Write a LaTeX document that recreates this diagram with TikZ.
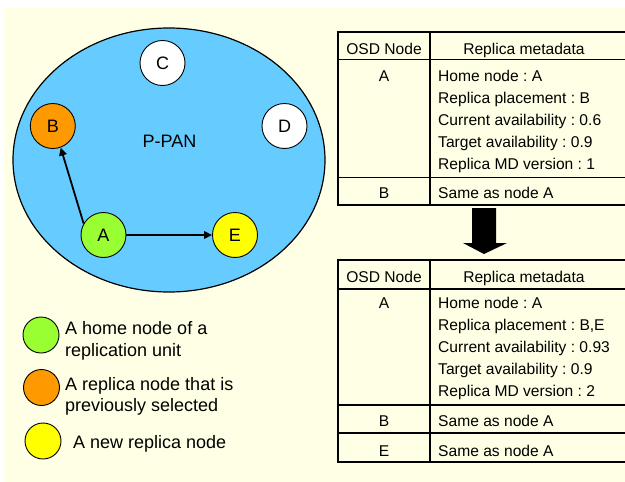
\documentclass[tikz,border=0pt]{standalone}
\usepackage{fontspec}
\setmainfont{Liberation Sans}
\usetikzlibrary{arrows.meta}
\definecolor{cream}{RGB}{255,255,229}
\definecolor{panblue}{RGB}{102,204,255}
\definecolor{homegreen}{RGB}{153,255,51}
\definecolor{oldorange}{RGB}{255,153,0}
\definecolor{newyellow}{RGB}{255,255,0}
\frenchspacing

\begin{document}
\begin{tikzpicture}[x=1pt,y=-1pt,>={Triangle[length=8pt,width=7.5pt]},
 osd/.style={circle,draw,line width=0.9pt,minimum size=45pt,inner sep=0pt,font=\fontsize{18}{21}\selectfont},
 key/.style={circle,draw,line width=0.9pt,minimum size=36pt,inner sep=0pt},
 keytext/.style={anchor=north west,inner sep=0pt,align=left,font=\fontsize{18}{21.3}\selectfont},
 cell/.style={anchor=base,inner sep=0pt,font=\fontsize{15.6}{22}\selectfont},
 meta/.style={cell,anchor=north west,align=left},
 outer/.style={line width=2pt},
 inner/.style={line width=1.2pt}]
\useasboundingbox (0,0) rectangle (625,482);
\fill[cream] (4,8) rectangle (625,482);
% P-PAN with its OSD nodes
\draw[fill=panblue,line width=1.2pt] (169,160) ellipse [x radius=156pt,y radius=132pt];
\node[font=\fontsize{18}{21}\selectfont,anchor=base] (ppan) at (169.5,147.5) {P-PAN};
\node[osd,fill=white] (c) at (162.5,63) {C};
\node[osd,fill=oldorange] (b) at (52.8,126) {B};
\node[osd,fill=white] (d) at (284.5,126) {D};
\node[osd,fill=homegreen] (a) at (103.5,235) {A};
\node[osd,fill=newyellow] (e) at (235,235) {E};
\draw[->,line width=1.8pt] (a.150)--(b.290);
\draw[->,line width=1.8pt] (a)--(e);
% legend
\node[key,fill=homegreen] (k1) at (41,335) {};
\node[keytext] (t1) at (65,321.5) {A home node of a\\replication unit};
\node[key,fill=oldorange] (k2) at (41.5,387.5) {};
\node[keytext] (t2) at (65,377.3) {A replica node that is\\previously selected};
\node[key,fill=newyellow] (k3) at (43,441) {};
\node[keytext,anchor=base west] (t3) at (73,448.3) {A new replica node};
% metadata before
\draw[outer] (338,32) rectangle (627,205);
\draw[inner] (338,59.5)--(627,59.5) (338,177.5)--(627,177.5) (430,32)--(430,205);
\node[cell] (h1) at (384,54.3) {OSD Node};
\node[cell] (m1) at (524,54.3) {Replica metadata};
\node[cell] (r1a) at (384,81.7) {A};
\node[meta] (d1a) at (438,70.3) {Home node : A\\Replica placement : B\\Current availability : 0.6\\Target availability : 0.9\\Replica MD version : 1};
\node[cell] (r1b) at (384,198) {B};
\node[cell,anchor=base west] (d1b) at (438,198) {Same as node A};
% update
\fill (472,208)--(496,208)--(496,243)--(507,243)--(484,254)--(463,243)--(472,243)--cycle;
% metadata after
\draw[outer] (338,260) rectangle (627,462);
\draw[inner] (338,289)--(627,289) (338,405)--(627,405) (338,433)--(627,433) (430,260)--(430,462);
\node[cell] (h2) at (384,282.7) {OSD Node};
\node[cell] (m2) at (524,282.7) {Replica metadata};
\node[cell] (r2a) at (384,308) {A};
\node[meta] (d2a) at (438,296.6) {Home node : A\\Replica placement : B,E\\Current availability : 0.93\\Target availability : 0.9\\Replica MD version : 2};
\node[cell] (r2b) at (384,426.7) {B};
\node[cell,anchor=base west] (d2b) at (438,426.7) {Same as node A};
\node[cell] (r2e) at (384,456.5) {E};
\node[cell,anchor=base west] (d2e) at (438,456.5) {Same as node A};
\end{tikzpicture}
\end{document}
